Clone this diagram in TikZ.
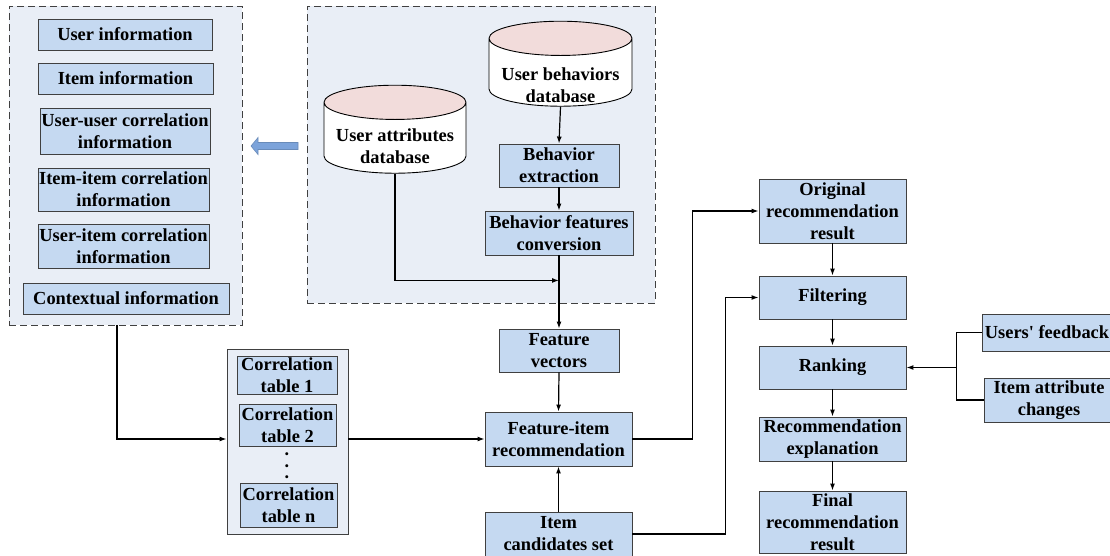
\documentclass[tikz,border=0pt]{standalone}
\usepackage{fontspec}
\setmainfont{Liberation Serif}
\usetikzlibrary{arrows.meta,shapes.geometric}
\definecolor{boxblue}{RGB}{197,217,241}
\definecolor{grpfill}{RGB}{233,238,246}
\definecolor{dbpink}{RGB}{242,220,219}
\definecolor{edgegray}{RGB}{64,64,64}
\definecolor{arrowblue}{RGB}{124,163,218}
\newcommand\dblabel[2]{\raisebox{#1}[0pt][0pt]{\begin{tabular}{@{}c@{}}#2\end{tabular}}}
\tikzset{
  box/.style={draw=edgegray, fill=boxblue, line width=0.9pt, align=center, inner sep=0pt,
    font=\fontsize{18.4}{22}\selectfont\bfseries},
  grp/.style={draw=edgegray, fill=grpfill, line width=0.9pt, inner sep=0pt},
  dashgrp/.style={grp, dash pattern=on 7pt off 4pt},
  db/.style={cylinder, shape border rotate=90, aspect=0.29, draw=black, line width=0.9pt,
    cylinder uses custom fill, cylinder body fill=white, cylinder end fill=dbpink,
    inner sep=0pt, font=\fontsize{18.4}{22}\selectfont\bfseries},
  dotstext/.style={inner sep=0pt, font=\fontsize{18.4}{22}\selectfont\bfseries},
  conn/.style={line width=1.2pt, >={Latex[length=7pt,width=5pt]}}
}
\begin{document}
\begin{tikzpicture}[x=1pt, y=-1pt]
\useasboundingbox (0,0) rectangle (1110,555);
% groups
\node[dashgrp, minimum width=233, minimum height=319] (leftgrp) at (125.5,165.5) {};
\node[dashgrp, minimum width=348, minimum height=297] (rightgrp) at (481,154.5) {};
\node[grp, minimum width=121, minimum height=185] (corrgrp) at (287.5,441.5) {};
% information
\node[box, minimum width=174, minimum height=31] (ui) at (125,34.5) {User information};
\node[box, minimum width=175, minimum height=31] (ii) at (125.5,78.5) {Item information};
\node[box, minimum width=170, minimum height=46] (uuc) at (125,131) {User-user correlation\\information};
\node[box, minimum width=171, minimum height=43] (iic) at (123.5,189.5) {Item-item correlation\\information};
\node[box, minimum width=171, minimum height=44] (uic) at (123.5,246) {User-item correlation\\information};
\node[box, minimum width=206, minimum height=31] (ctx) at (126,298.5) {Contextual information};
\draw[fill=arrowblue, draw=arrowblue!85!black, line width=0.6pt]
  (298,142.5) -- (258,142.5) -- (258,137.5) -- (251,146) -- (258,154.5) -- (258,149.5) -- (298,149.5) -- cycle;
% databases
\node[db, minimum width=143, minimum height=85] (ubdb) at (560.5,72.5)
  {\dblabel{-18.6pt}{User behaviors\\database}};
\node[db, minimum width=142, minimum height=88] (uadb) at (395,138)
  {\dblabel{-14.6pt}{User attributes\\database}};
\node[box, minimum width=120, minimum height=43] (bex) at (559,165.5) {Behavior\\extraction};
\node[box, minimum width=148, minimum height=44] (bfc) at (559,233) {Behavior features\\conversion};
\coordinate (join) at ([yshift=-25pt]bfc.south);
% correlation tables
\node[box, minimum width=100, minimum height=38] (ct1) at (287,375) {Correlation\\table 1};
\node[box, minimum width=97, minimum height=42] (ct2) at (287.5,425) {Correlation\\table 2};
\node[dotstext, rotate=90] (dots) at (287,466) {.\hspace{6.9pt}.\hspace{6.9pt}.};
\node[box, minimum width=97, minimum height=44] (ctn) at (288.5,505) {Correlation\\table n};
% middle column
\node[box, minimum width=120, minimum height=43] (fv) at (559,350.5) {Feature\\vectors};
\node[box, minimum width=147, minimum height=54] (fir) at (558.5,439) {Feature-item\\recommendation};
\node[box, minimum width=147, minimum height=44] (ics) at (558.5,534) {Item\\candidates set};
% right column
\node[box, minimum width=147, minimum height=64] (orr) at (832.5,211) {Original\\recommendation\\result};
\node[box, minimum width=147, minimum height=43] (filt) at (832.5,297.5) {Filtering};
\node[box, minimum width=147, minimum height=43] (rank) at (832.5,367.5) {Ranking};
\node[box, minimum width=147, minimum height=44] (rexp) at (832.5,439) {Recommendation\\explanation};
\node[box, minimum width=147, minimum height=62] (frr) at (832.5,522) {Final\\recommendation\\result};
\node[box, minimum width=130, minimum height=37] (uf) at (1047,332.5) {Users\textquotesingle{} feedback};
\node[box, minimum width=130, minimum height=44] (iac) at (1049,400) {Item attribute\\changes};
\coordinate (fork) at ([xshift=50pt]rank.east);
% connectors
\draw[conn,->] (ubdb.south) -- (bex.north);
\draw[conn,->] (bex.south) -- (bfc.north);
\draw[conn,->] (uadb.south) |- (join);
\draw[conn,->] (bfc.south) -- (fv.north);
\draw[conn,->] (fv.south) -- (fir.north);
\draw[conn,->] ([xshift=-8.5pt]leftgrp.south) |- (corrgrp.west |- fir.west);
\draw[conn,->] (corrgrp.east |- fir.west) -- (fir.west);
\draw[conn,->] (ics.north) -- (fir.south);
\draw[conn,->] (fir.east) -- ++(60,0) |- (orr.west);
\draw[conn,->] (ics.east) -- ++(93,0) |- (filt.west);
\draw[conn,->] (orr.south) -- (filt.north);
\draw[conn,->] (filt.south) -- (rank.north);
\draw[conn,->] (rank.south) -- (rexp.north);
\draw[conn,->] (rexp.south) -- (frr.north);
\draw[conn] (uf.west) -| (fork);
\draw[conn] (iac.west) -| (fork);
\draw[conn,->] (fork) -- (rank.east);
\end{tikzpicture}
\end{document}
